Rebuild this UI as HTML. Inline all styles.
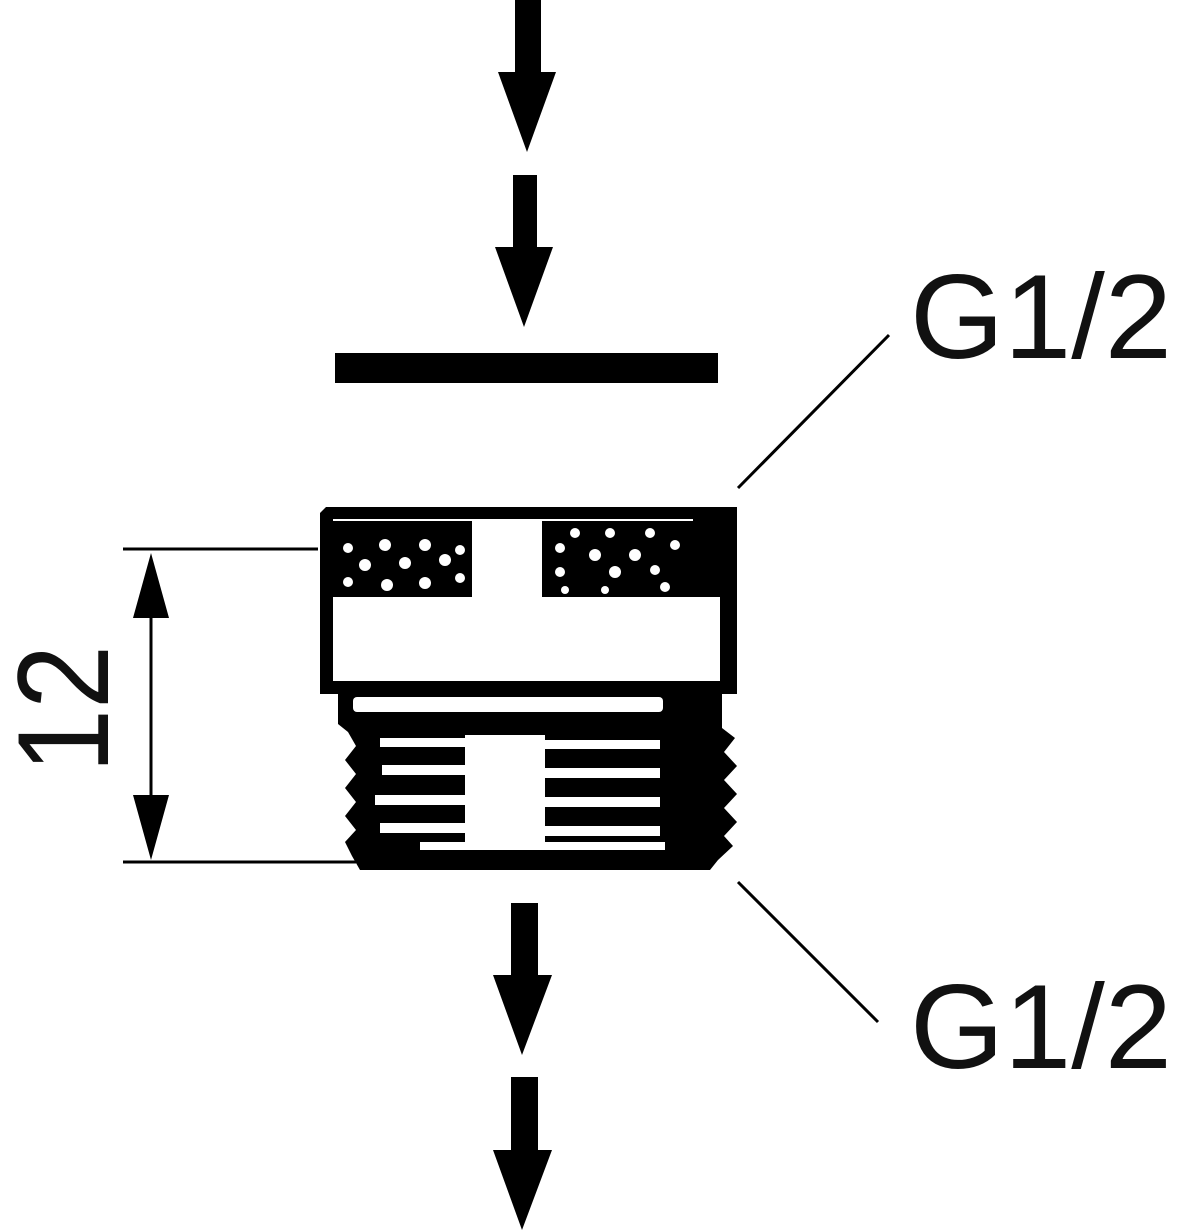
<!DOCTYPE html>
<html><head><meta charset="utf-8"><style>html,body{margin:0;padding:0;background:#fff}svg{display:block}</style></head>
<body>
<svg width="1181" height="1231" viewBox="0 0 1181 1231" xmlns="http://www.w3.org/2000/svg">
<g fill="#000">
<rect x="515" y="0" width="26" height="73"/><polygon points="498,72 556,72 527,152"/>
<rect x="513" y="175" width="24" height="73"/><polygon points="495,247 553,247 524,327"/>
<rect x="335" y="353" width="383" height="30"/>
<rect x="511" y="903" width="27" height="73"/><polygon points="493,975 552,975 522,1055"/>
<rect x="511" y="1077" width="27" height="74"/><polygon points="493,1150 552,1150 522,1230"/>
<path d="M326,507 L737,507 L737,694 L320,694 L320,513 Z"/>
<rect x="333" y="520" width="387" height="77" fill="#000"/>
<rect x="472" y="520" width="70" height="77" fill="#fff"/>
<rect x="333" y="597" width="387" height="84" fill="#fff"/>
<rect x="333" y="519" width="360" height="2" fill="#fff"/>
<path d="M338,694 L722,694 L722,728 L735,738 L724,752 L737,766 L724,780 L737,794 L724,808 L737,822 L724,836 L733,846 L718,860 L710,870 L360,870 L352,856 L345,842 L356,830 L345,816 L356,802 L345,788 L356,774 L345,760 L356,746 L348,732 L338,724 Z"/>
<rect x="353" y="697" width="310" height="15" rx="4" fill="#fff"/>
</g>
<g fill="#fff">
<circle cx="348" cy="548" r="5"/><circle cx="385" cy="545" r="6"/><circle cx="425" cy="545" r="6"/><circle cx="460" cy="550" r="5"/>
<circle cx="365" cy="565" r="6"/><circle cx="405" cy="563" r="6"/><circle cx="445" cy="560" r="6"/>
<circle cx="348" cy="582" r="5"/><circle cx="387" cy="585" r="6"/><circle cx="425" cy="583" r="6"/><circle cx="460" cy="578" r="5"/>
<circle cx="560" cy="548" r="5"/><circle cx="575" cy="533" r="5"/><circle cx="610" cy="533" r="5"/><circle cx="650" cy="533" r="5"/>
<circle cx="595" cy="555" r="6"/><circle cx="635" cy="555" r="6"/><circle cx="675" cy="545" r="5"/>
<circle cx="560" cy="572" r="5"/><circle cx="615" cy="572" r="6"/><circle cx="655" cy="570" r="5"/>
<circle cx="565" cy="590" r="4"/><circle cx="605" cy="590" r="4"/><circle cx="665" cy="587" r="5"/>
</g>
<g fill="#fff">
<rect x="380" y="738" width="85" height="9"/><rect x="545" y="740" width="115" height="9"/>
<rect x="382" y="765" width="83" height="10"/><rect x="543" y="768" width="117" height="10"/>
<rect x="375" y="795" width="93" height="10"/><rect x="545" y="797" width="115" height="10"/>
<rect x="380" y="823" width="87" height="10"/><rect x="540" y="826" width="120" height="10"/>
<rect x="420" y="842" width="245" height="8"/>
<rect x="465" y="735" width="80" height="115"/>
</g>
<g stroke="#000" stroke-width="3" fill="none">
<line x1="123" y1="549" x2="318" y2="549"/>
<line x1="123" y1="862" x2="356" y2="862"/>
<line x1="151" y1="600" x2="151" y2="810"/>
<line x1="738" y1="488" x2="889" y2="335"/>
<line x1="738" y1="882" x2="878" y2="1022"/>
</g>
<polygon points="151,553 133,618 169,618" fill="#000"/>
<polygon points="151,860 133,795 169,795" fill="#000"/>
<text transform="translate(108,773) rotate(-90)" font-family="Liberation Sans, sans-serif" font-size="130" fill="#111" textLength="128" lengthAdjust="spacingAndGlyphs">12</text>
<text x="910" y="358" font-family="Liberation Sans, sans-serif" font-size="120" fill="#111" textLength="262" lengthAdjust="spacingAndGlyphs">G1/2</text>
<text x="910" y="1068" font-family="Liberation Sans, sans-serif" font-size="120" fill="#111" textLength="262" lengthAdjust="spacingAndGlyphs">G1/2</text>
</svg>
</body></html>
